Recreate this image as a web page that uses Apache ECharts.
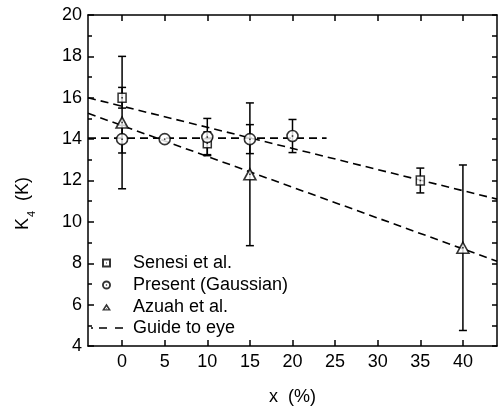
<!DOCTYPE html>
<html>
<head>
<meta charset="utf-8">
<script src="https://cdn.jsdelivr.net/npm/echarts@6/dist/echarts.min.js"></script>
<style>
  html, body { margin: 0; padding: 0; background: #fff; }
  #chart { width: 498px; height: 411px; }
</style>
</head>
<body>
<div id="chart"></div>
<script>
// values
const senesiX = [0, 10, 35];
const senesiY = [16, 13.8, 12];
const senesiErr = [0.5, 0.55, 0.6];

const presentX = [0, 5, 10, 15, 20];
const presentY = [14, 14, 14.1, 14, 14.15];
const presentErr = [0.67, 0, 0.9, 0.7, 0.8];

const azuahX = [0, 15, 40];
const azuahY = [14.8, 12.3, 8.75];
const azuahErr = [3.2, 3.45, 4.0];

// guide lines (end points)
const guideSenesi = [[-4, 16], [44, 11.1]];
const guidePresent = [[-4, 14.05], [24, 14.05]];
const guideAzuah = [[-4, 15.25], [44, 8.1]];

const xTicks = [0, 5, 10, 15, 20, 25, 30, 35, 40];

const font = "'Liberation Sans', Arial, sans-serif";

function pts(xs, ys) {
  return xs.map((x, i) => [x, ys[i]]);
}
function errPts(xs, ys, es) {
  return xs.map((x, i) => [x, ys[i], es[i]]);
}

function renderErr(params, api) {
  const x = api.value(0);
  const y = api.value(1);
  const e = api.value(2);
  if (!e) return;
  const top = api.coord([x, y + e]);
  const bot = api.coord([x, y - e]);
  const w = 4;
  const style = { stroke: "#000", lineWidth: 1.5 };
  return {
    type: "group",
    children: [
      { type: "line", shape: { x1: top[0], y1: top[1], x2: bot[0], y2: bot[1] }, style },
      { type: "line", shape: { x1: top[0] - w, y1: top[1], x2: top[0] + w, y2: top[1] }, style },
      { type: "line", shape: { x1: bot[0] - w, y1: bot[1], x2: bot[0] + w, y2: bot[1] }, style },
    ],
  };
}

// legend icons: open symbols with a centre dot
const iconSquare = "path://M0,0H9V9H0Z M2,2V7H7V2Z M4,4H5V5H4Z";
const iconCircle =
  "path://M0,4.5A4.5,4.5 0 1,1 9,4.5A4.5,4.5 0 1,1 0,4.5Z " +
  "M1.9,4.5A2.6,2.6 0 1,0 7.1,4.5A2.6,2.6 0 1,0 1.9,4.5Z " +
  "M3.7,4.5A0.8,0.8 0 1,1 5.3,4.5A0.8,0.8 0 1,1 3.7,4.5Z";
const iconTriangle = "path://M5,0L10,8L0,8Z M5,3.4L3,6.5L7,6.5Z M4.6,5.2H5.4V6H4.6Z";
const iconGuide = "path://M0,0h2v1.6h-2z M8,0h8v1.6h-8z M24,0h8v1.6h-8z";

const markerStyle = { color: "#fff", borderColor: "#000", borderWidth: 1.6 };
const guideStyle = { color: "#000", width: 1.6, type: [8, 5] };
const iconStyle = { color: "#000", borderWidth: 0 };
function legendText(pad) {
  return {
    fontSize: 18,
    color: "#000",
    fontFamily: font,
    rich: { t: { fontSize: 18, color: "#000", fontFamily: font, padding: [0, 0, 0, pad] } },
  };
}

const chart = echarts.init(document.getElementById("chart"));
chart.setOption({
  animation: false,
  backgroundColor: "#fff",
  textStyle: { fontFamily: font },
  grid: { left: 88, top: 15, width: 409, height: 332, containLabel: false },
  legend: [
    {
      orient: "vertical",
      left: 97,
      top: 249,
      itemWidth: 9,
      itemHeight: 9,
      itemGap: 4,
      formatter: (n) => "{t|" + n + "}",
      textStyle: legendText(17),
      data: [
        { name: "Senesi et al.", icon: iconSquare, itemStyle: iconStyle },
        { name: "Present (Gaussian)", icon: iconCircle, itemStyle: iconStyle },
        { name: "Azuah et al.", icon: iconTriangle, itemStyle: iconStyle },
      ],
    },
    {
      orient: "vertical",
      left: 86,
      top: 314,
      itemWidth: 32,
      itemHeight: 9,
      formatter: (n) => "{t|" + n + "}",
      textStyle: legendText(5),
      data: [{ name: "Guide to eye", icon: iconGuide, itemStyle: iconStyle }],
    },
  ],
  xAxis: [
    {
      type: "value",
      min: -4,
      max: 44,
      name: "x  (%)",
      nameLocation: "middle",
      nameGap: 42,
      nameTextStyle: { fontSize: 18, color: "#000", fontFamily: font },
      axisLine: { onZero: false, lineStyle: { color: "#000", width: 1.5 } },
      axisTick: { inside: true, length: 6, customValues: xTicks, lineStyle: { color: "#000", width: 1.5 } },
      axisLabel: { customValues: xTicks, fontSize: 18, color: "#000", margin: 7, fontFamily: font },
      splitLine: { show: false },
    },
    {
      type: "value",
      position: "top",
      min: -4,
      max: 44,
      axisLine: { onZero: false, lineStyle: { color: "#000", width: 1.5 } },
      axisTick: { inside: true, length: 6, customValues: xTicks, lineStyle: { color: "#000", width: 1.5 } },
      axisLabel: { show: false },
      splitLine: { show: false },
    },
  ],
  yAxis: [
    {
      type: "value",
      min: 4,
      max: 20,
      interval: 2,
      name: "{k|K}{s|4}{k|  (K)}",
      nameLocation: "middle",
      nameGap: 56,
      nameTextStyle: {
        color: "#000",
        padding: [0, 46, 0, 0],
        rich: {
          k: { fontSize: 18, color: "#000", fontFamily: font },
          s: { fontSize: 11, color: "#000", fontFamily: font, verticalAlign: "bottom", padding: [0, 0, -5, 1] },
        },
      },
      axisLine: { onZero: false, lineStyle: { color: "#000", width: 1.5 } },
      axisTick: { inside: true, length: 6, lineStyle: { color: "#000", width: 1.5 } },
      minorTick: { show: true, splitNumber: 2, length: 4, lineStyle: { color: "#000", width: 1.5 } },
      axisLabel: { fontSize: 18, color: "#000", margin: 6, fontFamily: font },
      splitLine: { show: false },
      minorSplitLine: { show: false },
    },
    {
      type: "value",
      position: "right",
      min: 4,
      max: 20,
      interval: 1,
      axisLine: { onZero: false, lineStyle: { color: "#000", width: 1.5 } },
      axisTick: { inside: true, length: 5, lineStyle: { color: "#000", width: 1.5 } },
      axisLabel: { show: false },
      splitLine: { show: false },
    },
  ],
  series: [
    { name: "Guide to eye", type: "line", symbol: "none", z: 1, lineStyle: guideStyle, itemStyle: { color: "#000" }, data: guideSenesi },
    { name: "Guide to eye", type: "line", symbol: "none", z: 1, lineStyle: guideStyle, itemStyle: { color: "#000" }, data: guidePresent },
    { name: "Guide to eye", type: "line", symbol: "none", z: 1, lineStyle: guideStyle, itemStyle: { color: "#000" }, data: guideAzuah },
    { type: "custom", z: 2, renderItem: renderErr, data: errPts(senesiX, senesiY, senesiErr) },
    { type: "custom", z: 2, renderItem: renderErr, data: errPts(presentX, presentY, presentErr) },
    { type: "custom", z: 2, renderItem: renderErr, data: errPts(azuahX, azuahY, azuahErr) },
    { name: "Senesi et al.", type: "scatter", z: 3, symbol: "rect", symbolSize: [8, 9], itemStyle: markerStyle, data: pts(senesiX, senesiY) },
    { name: "Present (Gaussian)", type: "scatter", z: 3, symbol: "circle", symbolSize: 11, itemStyle: markerStyle, data: pts(presentX, presentY) },
    { name: "Azuah et al.", type: "scatter", z: 3, symbol: "triangle", symbolSize: [12, 11], itemStyle: markerStyle, data: pts(azuahX, azuahY) },
    // centre dots of the open symbols
    {
      type: "scatter",
      z: 4,
      symbol: "rect",
      symbolSize: 1.5,
      itemStyle: { color: "#000" },
      data: pts(senesiX, senesiY).concat(pts(presentX, presentY), pts(azuahX, azuahY)),
    },
  ],
});
</script>
</body>
</html>
